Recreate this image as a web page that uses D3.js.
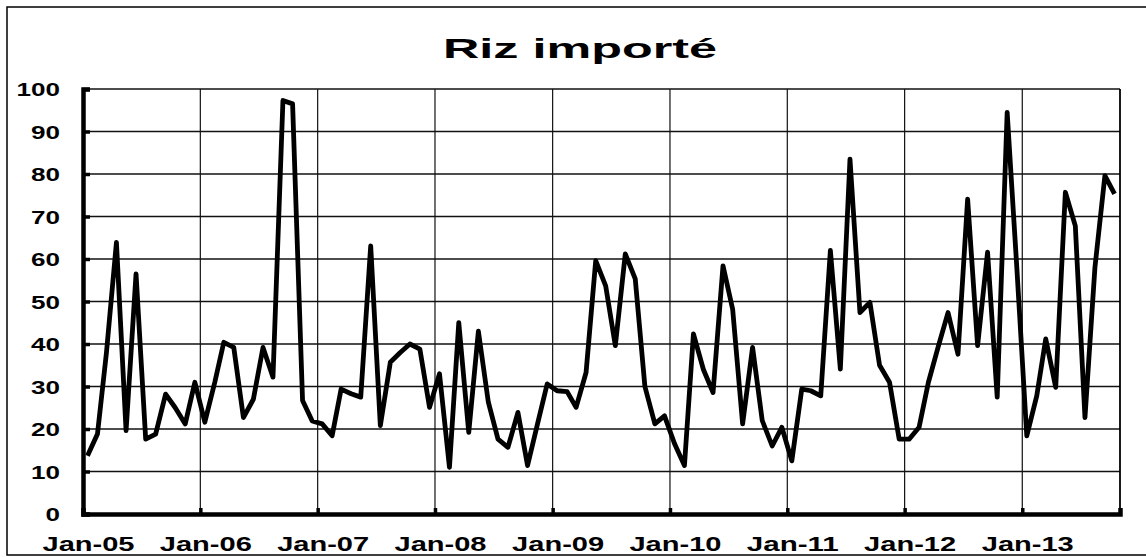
<!DOCTYPE html>
<html>
<head>
<meta charset="utf-8">
<script src="https://cdn.jsdelivr.net/npm/d3@7"></script>
<style>
  html, body { margin: 0; padding: 0; background: #fff; }
  svg { display: block; }
  text { font-family: "Liberation Sans", Arial, sans-serif; font-weight: bold; fill: #000; }
</style>
</head>
<body>
<svg width="1146" height="557"></svg>
<script>
// monthly values, Jan-05 .. Oct-13
const values2005 = [13.7, 18.8, 38, 63.9, 19.6, 56.5, 17.6, 18.8, 28.2, 25, 21.2, 31];
const values2006 = [21.6, 31, 40.4, 39.2, 22.7, 27, 39.2, 32.2, 97.3, 96.5, 26.7, 21.9];
const values2007 = [21.2, 18.4, 29.4, 28.3, 27.5, 63.1, 20.8, 35.7, 38, 40, 38.8, 25.1];
const values2008 = [33, 11, 45, 19.2, 43, 26.3, 17.6, 15.7, 23.9, 11.4, 21.2, 30.6];
const values2009 = [29, 28.8, 25.1, 33.3, 59.6, 53.7, 39.6, 61.2, 55.3, 30, 21.2, 23.1];
const values2010 = [16.6, 11.4, 42.4, 34, 28.6, 58.4, 48.2, 21.2, 39.2, 22, 16, 20.4];
const values2011 = [12.5, 29.4, 29, 27.8, 62, 34.1, 83.5, 47.4, 49.8, 35, 31, 17.6];
const values2012 = [17.6, 20.4, 31, 39.5, 47.4, 37.6, 74.1, 39.6, 61.6, 27.5, 94.5, 58];
const values2013 = [18.4, 27.8, 41.2, 29.8, 75.7, 67.8, 22.7, 58, 79.6, 75.3];

const years = [2005, 2006, 2007, 2008, 2009, 2010, 2011, 2012, 2013];
const yearValues = [values2005, values2006, values2007, values2008, values2009,
                    values2010, values2011, values2012, values2013];
const yTicks = [0, 10, 20, 30, 40, 50, 60, 70, 80, 90, 100];
const title = "Riz importé";

// points dated mid-month
const data = [];
yearValues.forEach((vals, i) => {
  vals.forEach((v, m) => data.push({ date: new Date(years[i], m, 15), value: v }));
});

const plotLeft = 83, plotRight = 1120, plotTop = 89, plotBottom = 514;
const svg = d3.select('svg');

// outer frame
svg.append('rect')
  .attr('x', 7).attr('y', 7)
  .attr('width', 1160).attr('height', 548)
  .attr('fill', 'none')
  .attr('stroke', '#000')
  .attr('stroke-width', 1.5);

const xScale = d3.scaleTime()
  .domain([new Date(2005, 0, 1), new Date(2013, 10, 1)])
  .range([plotLeft, plotRight]);
const yScale = d3.scaleLinear()
  .domain([0, 100])
  .range([plotBottom, plotTop]);

const janTicks = years.map(y => new Date(y, 0, 1));

// grid
svg.append('g')
  .selectAll('line')
  .data(yTicks.filter(d => d > 0))
  .enter()
  .append('line')
  .attr('x1', plotLeft).attr('x2', plotRight)
  .attr('y1', d => yScale(d)).attr('y2', d => yScale(d))
  .attr('stroke', '#111')
  .attr('stroke-width', 1.3);

svg.append('g')
  .selectAll('line')
  .data(janTicks.slice(1))
  .enter()
  .append('line')
  .attr('x1', d => xScale(d)).attr('x2', d => xScale(d))
  .attr('y1', plotTop).attr('y2', plotBottom)
  .attr('stroke', '#111')
  .attr('stroke-width', 1.2);

// right frame
svg.append('line')
  .attr('x1', plotRight).attr('x2', plotRight)
  .attr('y1', plotTop).attr('y2', plotBottom)
  .attr('stroke', '#000')
  .attr('stroke-width', 1.8);

// axes
const yAxis = d3.axisRight(yScale).tickValues(yTicks).tickSize(7).tickFormat('');
svg.append('g')
  .attr('id', 'y-axis')
  .attr('transform', 'translate(' + plotLeft + ',0)')
  .call(yAxis)
  .call(g => g.select('.domain').attr('stroke-width', 4.5))
  .call(g => g.selectAll('.tick line').attr('stroke-width', 3.5));

const xAxis = d3.axisTop(xScale).tickValues(janTicks).tickSize(6).tickFormat('');
svg.append('g')
  .attr('id', 'x-axis')
  .attr('transform', 'translate(0,' + plotBottom + ')')
  .call(xAxis)
  .call(g => g.select('.domain').attr('stroke-width', 4.5))
  .call(g => g.selectAll('.tick line').attr('stroke-width', 3.5));

// tick labels (wide, like the scan)
svg.append('g')
  .selectAll('text')
  .data(yTicks)
  .enter()
  .append('text')
  .attr('x', 60)
  .attr('y', d => yScale(d) + 7)
  .attr('text-anchor', 'end')
  .style('font-size', '18px')
  .attr('textLength', d => String(d).length * 14.5)
  .attr('lengthAdjust', 'spacingAndGlyphs')
  .text(d => d);

const fmt = d3.timeFormat('%b-%y');
svg.append('g')
  .selectAll('text')
  .data(janTicks)
  .enter()
  .append('text')
  .attr('x', d => xScale(d) + 5.5)
  .attr('y', 551)
  .attr('text-anchor', 'middle')
  .style('font-size', '21px')
  .attr('textLength', 92)
  .attr('lengthAdjust', 'spacingAndGlyphs')
  .text(d => fmt(d));

// series
const line = d3.line()
  .x(d => xScale(d.date))
  .y(d => yScale(d.value));

svg.append('path')
  .datum(data)
  .attr('d', line)
  .attr('fill', 'none')
  .attr('stroke', '#000')
  .attr('stroke-width', 4.8)
  .attr('stroke-linejoin', 'round');

svg.append('text')
  .attr('id', 'title')
  .attr('x', 580)
  .attr('y', 58)
  .attr('text-anchor', 'middle')
  .style('font-size', '28px')
  .attr('textLength', 274)
  .attr('lengthAdjust', 'spacingAndGlyphs')
  .text(title);
</script>
</body>
</html>
